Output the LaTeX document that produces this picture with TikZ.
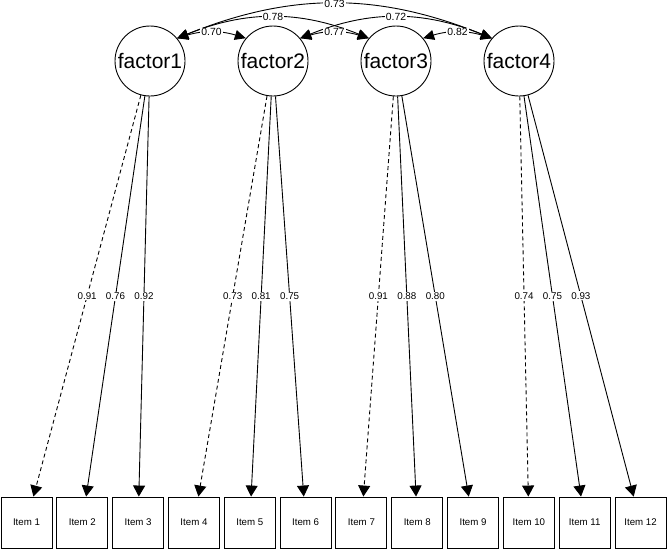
\documentclass[tikz,border=0pt]{standalone}
\usepackage{fontspec}
\setmainfont{Liberation Sans}
\usetikzlibrary{arrows.meta}
\begin{document}
\begin{tikzpicture}[x=1pt,y=1pt,
  lat/.style={circle,draw,line width=0.9pt,minimum size=70pt,inner sep=0pt,font=\fontsize{21}{21}\selectfont},
  obs/.style={rectangle,draw,line width=0.9pt,minimum width=51pt,minimum height=51pt,inner sep=0pt,font=\fontsize{9.7}{10}\selectfont},
  load/.style={line width=0.9pt,-{Triangle[length=11pt,width=12pt]}},
  fixedload/.style={load,dash pattern=on 4pt off 3pt},
  cov/.style={line width=0.9pt,{Triangle[length=11pt,width=10pt]}-{Triangle[length=11pt,width=10pt]}},
  lab/.style={fill=white,inner sep=1pt,font=\fontsize{9.8}{10}\selectfont},
  clab/.style={lab,font=\fontsize{10.4}{11}\selectfont},
]
\useasboundingbox (0,0) rectangle (668,-549);
\node[lat] (f1) at (150,-61) {factor1};
\node[lat] (f2) at (273,-61) {factor2};
\node[lat] (f3) at (396,-61) {factor3};
\node[lat] (f4) at (519,-61) {factor4};
\foreach \i in {1,...,12}
  \node[obs] (i\i) at ({26.5+55.82*(\i-1)},-522.5) {Item \i};
% loadings
\draw[fixedload] (f1) -- node[lab,midway]{0.91} (i1);
\draw[load] (f1) -- node[lab,midway]{0.76} (i2);
\draw[load] (f1) -- node[lab,midway]{0.92} (i3);
\draw[fixedload] (f2) -- node[lab,midway]{0.73} (i4);
\draw[load] (f2) -- node[lab,midway]{0.81} (i5);
\draw[load] (f2) -- node[lab,midway]{0.75} (i6);
\draw[fixedload] (f3) -- node[lab,midway]{0.91} (i7);
\draw[load] (f3) -- node[lab,midway]{0.88} (i8);
\draw[load] (f3) -- node[lab,midway]{0.80} (i9);
\draw[fixedload] (f4) -- node[lab,midway]{0.74} (i10);
\draw[load] (f4) -- node[lab,midway]{0.75} (i11);
\draw[load] (f4) -- node[lab,midway]{0.93} (i12);
% covariances
\draw[cov] (f1.40) to[out=22,in=158] node[clab,midway]{0.73} (f4.140);
\draw[cov] (f1.40) to[out=22,in=158] node[clab,midway]{0.78} (f3.140);
\draw[cov] (f2.40) to[out=22,in=158] node[clab,midway]{0.72} (f4.140);
\draw[cov] (f1.40) to[out=17,in=163] node[clab,midway]{0.70} (f2.140);
\draw[cov] (f2.40) to[out=17,in=163] node[clab,midway]{0.77} (f3.140);
\draw[cov] (f3.40) to[out=17,in=163] node[clab,midway]{0.82} (f4.140);
\end{tikzpicture}
\end{document}
